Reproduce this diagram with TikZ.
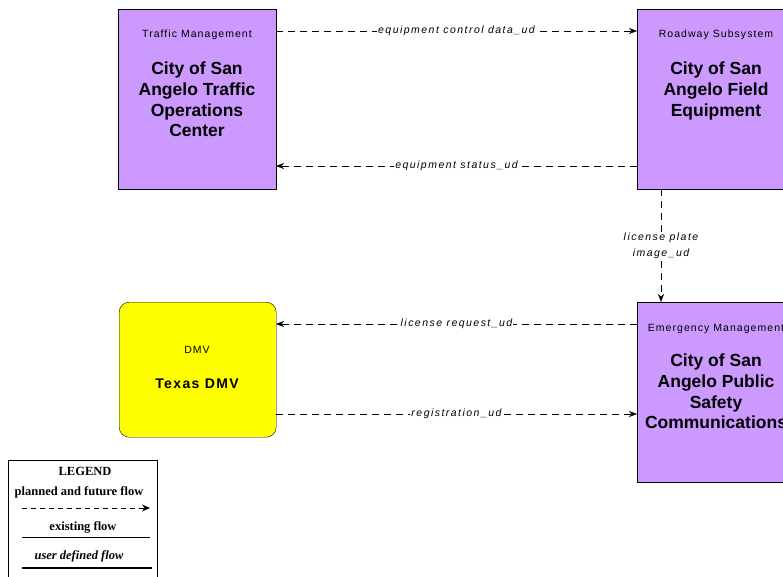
\documentclass[tikz,border=0pt]{standalone}
\usepackage{fontspec}
\setmainfont{Liberation Sans}
\newfontfamily\legendfont{Liberation Serif}
\newfontfamily\catfont[LetterSpace=10]{Liberation Sans}
\newfontfamily\flowfont[LetterSpace=14]{Liberation Sans}
\usetikzlibrary{arrows.meta}
\definecolor{elemviolet}{RGB}{204,153,255}
\definecolor{termyellow}{RGB}{255,255,0}
\tikzset{
  elembox/.style={draw=black, fill=elemviolet, minimum width=158pt, minimum height=180pt, anchor=north west, inner sep=0pt},
  termbox/.style={draw=black, fill=termyellow, rounded corners=10pt, minimum width=157pt, minimum height=135pt, anchor=north west, inner sep=0pt},
  cattext/.style={font=\catfont\fontsize{10.5}{12}\selectfont, inner sep=0pt},
  nametext/.style={font=\fontsize{17.5}{20.7}\selectfont\bfseries, align=center, inner sep=0pt, anchor=north},
  flow/.style={draw=black, dash pattern=on 7pt off 5pt, -{Stealth[length=8pt,width=6pt]}},
  flowlabel/.style={fill=white, font=\flowfont\fontsize{10.5}{16}\selectfont\itshape, inner sep=1pt, align=center},
  legtext/.style={font=\legendfont\fontsize{12.5}{14}\selectfont\bfseries, inner sep=0pt}
}
\begin{document}
\begin{tikzpicture}[x=1pt,y=-1pt]
\useasboundingbox (0,0) rectangle (783,576);
\clip (0,0) rectangle (783,576);
% boxes
\node[elembox] (toc) at (118,9) {};
\node[elembox] (field) at (637,9) {};
\node[elembox] (psc) at (637,302) {};
\node[termbox] (dmv) at (119,302) {};
% texts
\node[cattext] (toccat) at (197,35) {Traffic Management};
\node[nametext] (tocname) at (197,62) {City of San\\Angelo Traffic\\Operations\\Center};
\node[cattext] (fieldcat) at (716,35) {Roadway Subsystem};
\node[nametext] (fieldname) at (716,62) {City of San\\Angelo Field\\Equipment};
\node[cattext] (psccat) at (716,329) {Emergency Management};
\node[nametext] (pscname) at (716,354) {City of San\\Angelo Public\\Safety\\Communications};
\node[cattext] (dmvcat) at (197,350) {DMV};
\node[nametext, font=\catfont\fontsize{14}{16}\selectfont\bfseries] (dmvname) at (197,379) {Texas DMV};
% flows
\coordinate (a1) at (276,31); \coordinate (a2) at (637,31);
\draw[flow] (a1) -- node[flowlabel] {equipment control data\_ud} (a2);
\coordinate (b1) at (637,166); \coordinate (b2) at (276,166);
\draw[flow] (b1) -- node[flowlabel] {equipment status\_ud} (b2);
\coordinate (c1) at (661,189); \coordinate (c2) at (661,302);
\draw[flow] (c1) -- node[flowlabel, pos=0.5, yshift=-0.5pt, inner sep=0.5pt] {license plate\\image\_ud} (c2);
\coordinate (d1) at (637,324); \coordinate (d2) at (276,324);
\draw[flow] (d1) -- node[flowlabel] {license request\_ud} (d2);
\coordinate (e1) at (276,414); \coordinate (e2) at (637,414);
\draw[flow] (e1) -- node[flowlabel] {registration\_ud} (e2);
% legend
\node[draw=black, fill=white, minimum width=149pt, minimum height=130pt, anchor=north west, inner sep=0pt] (legend) at (8,460) {};
\node[legtext] (legtitle) at (85,471) {LEGEND};
\node[legtext] (legplanned) at (79,492) {planned and future flow};
\coordinate (l1a) at (22,508); \coordinate (l1b) at (150,508);
\draw[draw=black, dash pattern=on 5pt off 4pt, line width=1pt, -{Stealth[length=8pt,width=7pt]}] (l1a) -- (l1b);
\node[legtext] (legexist) at (83,527) {existing flow};
\coordinate (l2a) at (22,537); \coordinate (l2b) at (150,537);
\draw[line width=1pt] (l2a) -- (l2b);
\node[legtext, font=\legendfont\fontsize{12.5}{14}\selectfont\bfseries\itshape] (leguser) at (79,556) {user defined flow};
\coordinate (l3a) at (22,568); \coordinate (l3b) at (152,568);
\draw[line width=1.5pt] (l3a) -- (l3b);
\end{tikzpicture}
\end{document}
